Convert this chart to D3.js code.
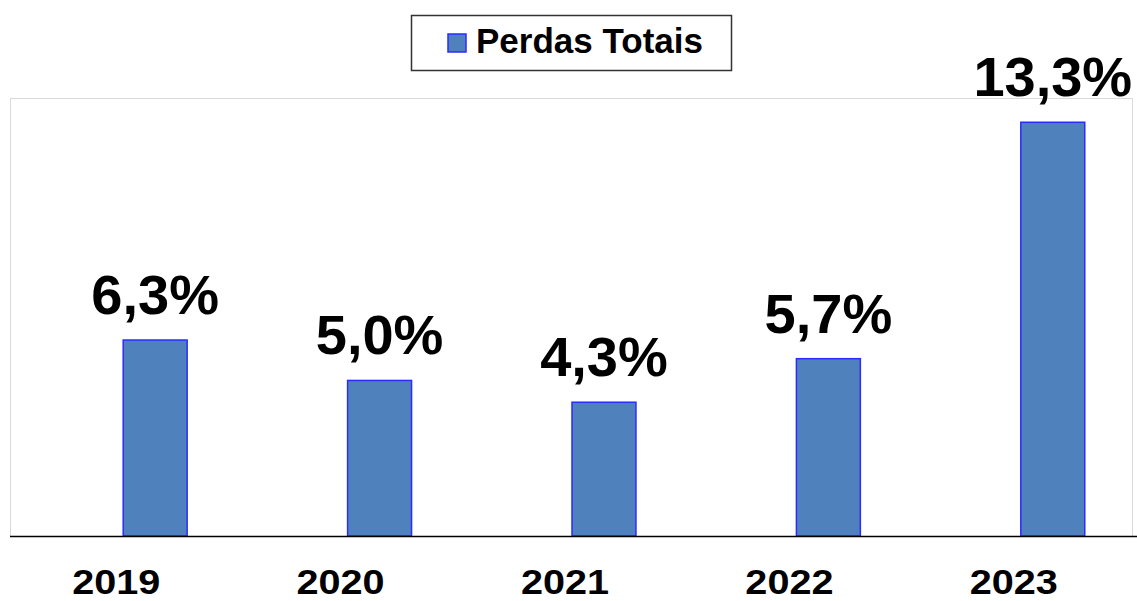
<!DOCTYPE html>
<html>
<head>
<meta charset="utf-8">
<script src="https://cdn.jsdelivr.net/npm/d3@7"></script>
<style>
  body { margin: 0; background: #fff; }
  text { font-family: "Liberation Sans", Arial, sans-serif; font-weight: bold; fill: #000; }
</style>
</head>
<body>
<svg id="chart" width="1137" height="601"></svg>
<script>
// data
const years = ["2019", "2020", "2021", "2022", "2023"]
const perdas = [6.3, 5.0, 4.3, 5.7, 13.3]
const labels = ["6,3%", "5,0%", "4,3%", "5,7%", "13,3%"]
const seriesName = "Perdas Totais"

const svg = d3.select("#chart"),
    width = +svg.attr("width"),
    height = +svg.attr("height")

const plot = {left: 10, right: 1132, top: 98, bottom: 536}

const x = d3.scaleBand().domain(years).range([plot.left, plot.right])
const y = d3.scaleLinear().domain([0, 14.08]).range([plot.bottom, plot.top])

// plot area border
svg.append("rect")
    .attr("x", plot.left + 0.5).attr("y", plot.top + 0.5)
    .attr("width", plot.right - plot.left).attr("height", plot.bottom - plot.top)
    .attr("fill", "none").attr("stroke", "#d9d9d9").attr("stroke-width", 1)

const bw = x.bandwidth() * 0.285
const barX = d => x(d) + x.bandwidth() / 2 + 1

// bars
svg.selectAll(".bar").data(years).enter().append("rect")
    .attr("class", "bar")
    .attr("x", d => barX(d))
    .attr("y", (d, i) => y(perdas[i]))
    .attr("width", bw)
    .attr("height", (d, i) => y(0) - y(perdas[i]))
    .attr("fill", "#4f81bd")
    .attr("stroke", "#2b2bff")
    .attr("stroke-width", 1.5)

// value labels
svg.selectAll(".val").data(years).enter().append("text")
    .attr("class", "val")
    .attr("x", d => barX(d) + bw / 2)
    .attr("y", (d, i) => y(perdas[i]) - 26)
    .attr("text-anchor", "middle")
    .style("font-size", "56px")
    .text((d, i) => labels[i])

// x axis line
svg.append("line")
    .attr("x1", plot.left).attr("x2", width)
    .attr("y1", plot.bottom + 0.5).attr("y2", plot.bottom + 0.5)
    .attr("stroke", "#000").attr("stroke-width", 1.5)

// category labels
svg.selectAll(".cat").data(years).enter().append("text")
    .attr("class", "cat")
    .attr("transform", d => `translate(${x(d) + x.bandwidth() / 2 - 6}, 594) scale(1.1,1)`)
    .attr("text-anchor", "middle")
    .style("font-size", "36px")
    .text(d => d)

// legend
const lg = svg.append("g")
lg.append("rect")
    .attr("x", 411.5).attr("y", 15.5).attr("width", 320).attr("height", 55)
    .attr("fill", "#fff").attr("stroke", "#333").attr("stroke-width", 1.5)
lg.append("rect")
    .attr("x", 448).attr("y", 34).attr("width", 18).attr("height", 18)
    .attr("fill", "#4f81bd").attr("stroke", "#2b2bff").attr("stroke-width", 1.5)
lg.append("text")
    .attr("x", 476).attr("y", 53)
    .style("font-size", "35px")
    .text(seriesName)
</script>
</body>
</html>
